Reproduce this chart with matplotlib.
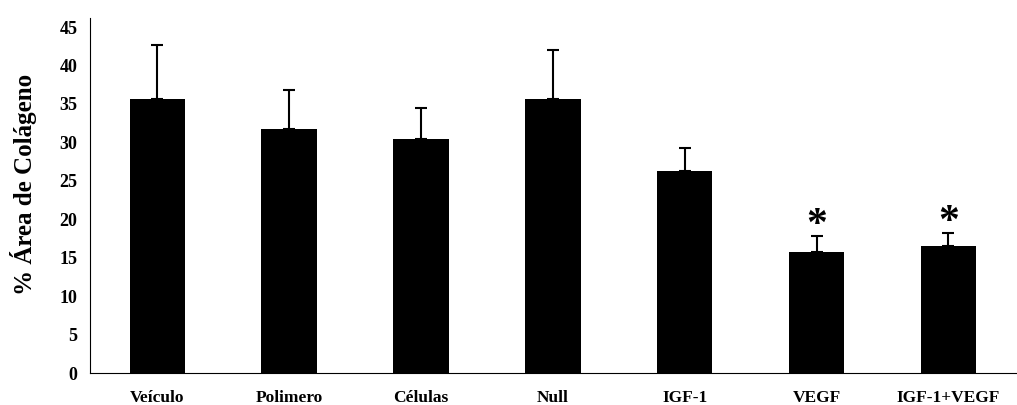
import matplotlib
matplotlib.use("Agg")
import matplotlib.pyplot as plt
import numpy as np

groups = ["Veículo", "Polimero", "Células", "Null", "IGF-1", "VEGF", "IGF-1+VEGF"]
means = [35.6, 31.7, 30.4, 35.6, 26.3, 15.7, 16.5]
errors = [7.0, 5.1, 4.1, 6.4, 3.0, 2.1, 1.7]
signif = [False, False, False, False, False, True, True]

plt.rcParams['font.family'] = ['Liberation Serif', 'DejaVu Serif']
plt.rcParams['font.weight'] = 'bold'

fig = plt.figure(figsize=(10.17, 4.05), dpi=100)
ax = fig.add_axes([0.0885, 0.079, 0.9115, 0.877])

x = np.arange(len(groups))
ax.bar(x, means, width=0.42, color='black', zorder=2)
ax.errorbar(x, means, yerr=[np.zeros(len(errors)), errors], fmt='none',
            ecolor='black', elinewidth=1.5, capsize=4, capthick=1.5, zorder=1)

for xi, m, e, s in zip(x, means, errors, signif):
    if s:
        ax.text(xi, m + e + 1.3, "*", ha='center', va='center',
                fontsize=30, fontweight='bold')

ax.set_xlim(-0.51, 6.52)
ax.set_ylim(0, 46.2)
ax.set_yticks(np.arange(0, 46, 5))
ax.set_xticks(x)
ax.set_xticklabels(groups, fontsize=12.5, fontweight='bold')
for lab in ax.get_yticklabels():
    lab.set_fontsize(13)
    lab.set_fontweight('bold')
ax.tick_params(axis='both', length=0)
ax.tick_params(axis='x', pad=12)
ax.tick_params(axis='y', pad=9)
ax.spines['top'].set_visible(False)
ax.spines['right'].set_visible(False)
ax.set_ylabel("% Área de Colágeno", fontsize=18, fontweight='bold')
ax.yaxis.set_label_coords(-0.057, 0.53)

fig.savefig("out.png", dpi=100)
